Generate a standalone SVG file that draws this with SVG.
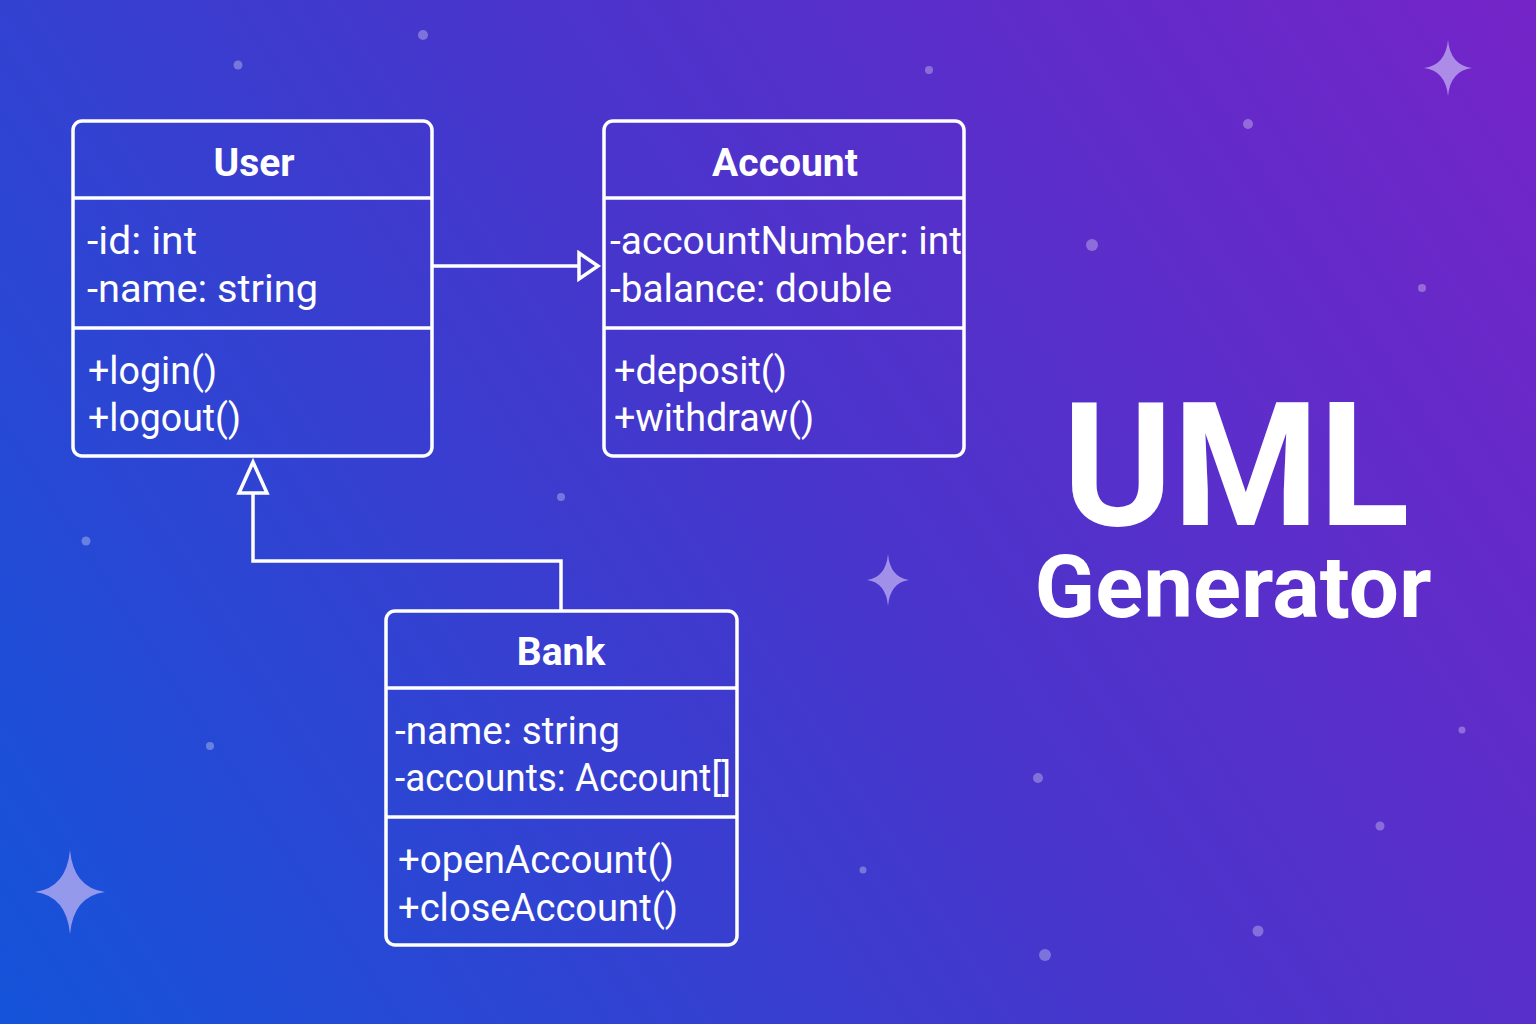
<svg xmlns="http://www.w3.org/2000/svg" width="1536" height="1024" viewBox="0 0 1536 1024">
<defs>
<linearGradient id="bg" x1="0" y1="1024" x2="1536" y2="0" gradientUnits="userSpaceOnUse">
<stop offset="0" stop-color="#1454da"/>
<stop offset="0.5" stop-color="#4636cc"/>
<stop offset="1" stop-color="#7524c8"/>
</linearGradient>
<path id="star" d="M0,-1 Q0.1,-0.1 1,0 Q0.1,0.1 0,1 Q-0.1,0.1 -1,0 Q-0.1,-0.1 0,-1 Z"/>
</defs>
<style>
.box{fill:none;stroke:#ffffff;stroke-width:3.5}
.sep{stroke:#ffffff;stroke-width:3.5}
.title{font-family:Roboto,"Noto Sans",sans-serif;font-weight:700;font-size:39px;fill:#ffffff;text-anchor:middle}
.mem{font-family:Roboto,"Noto Sans",sans-serif;font-size:38px;fill:#ffffff}
.conn{fill:none;stroke:#ffffff;stroke-width:3.5}
.head{fill:none;stroke:#ffffff;stroke-width:3.5;stroke-linejoin:miter}
.dot{fill:#ffffff;opacity:0.3}
.star{fill:#c8b8f5;opacity:0.7}
.big{font-family:Roboto,"Noto Sans",sans-serif;font-weight:700;fill:#ffffff;text-anchor:middle}
</style>
<rect width="1536" height="1024" fill="url(#bg)"/>
<g id="decor">
<circle class="dot" cx="423" cy="35" r="5"/>
<circle class="dot" cx="238" cy="65" r="4.5"/>
<circle class="dot" cx="929" cy="70" r="4"/>
<circle class="dot" cx="1248" cy="124" r="5"/>
<circle class="dot" cx="1092" cy="245" r="6"/>
<circle class="dot" cx="1422" cy="288" r="4"/>
<circle class="dot" cx="561" cy="497" r="4"/>
<circle class="dot" cx="86" cy="541" r="4.5"/>
<circle class="dot" cx="210" cy="746" r="4"/>
<circle class="dot" cx="1038" cy="778" r="5"/>
<circle class="dot" cx="1462" cy="730" r="3.5"/>
<circle class="dot" cx="1380" cy="826" r="4.5"/>
<circle class="dot" cx="863" cy="870" r="3.5"/>
<circle class="dot" cx="1258" cy="931" r="5.5"/>
<circle class="dot" cx="1045" cy="955" r="6"/>
<use href="#star" class="star" transform="translate(1448,68) scale(24,28)"/>
<use href="#star" class="star" transform="translate(70,892) scale(35,42)"/>
<use href="#star" class="star" transform="translate(888,580) scale(21,26)"/>
</g>
<g id="connectors">
<polyline class="conn" points="432,266 579,266"/>
<polygon class="head" points="579,253 598,266 579,279"/>
<polyline class="conn" points="561,611 561,561 253,561 253,493"/>
<polygon class="head" points="239,493 253,462 267,493"/>
</g>
<g id="User">
<rect class="box" x="73" y="121" width="359" height="335" rx="9"/>
<line class="sep" x1="73" y1="198" x2="432" y2="198"/>
<line class="sep" x1="73" y1="328" x2="432" y2="328"/>
<text class="title" x="254" y="176">User</text>
<text class="mem" x="87" y="254" textLength="110" lengthAdjust="spacingAndGlyphs">-id: int</text>
<text class="mem" x="87" y="302" textLength="231" lengthAdjust="spacingAndGlyphs">-name: string</text>
<text class="mem" x="88" y="384" textLength="129" lengthAdjust="spacingAndGlyphs">+login()</text>
<text class="mem" x="88" y="431" textLength="153" lengthAdjust="spacingAndGlyphs">+logout()</text>
</g>
<g id="Account">
<rect class="box" x="604" y="121" width="360" height="335" rx="9"/>
<line class="sep" x1="604" y1="198" x2="964" y2="198"/>
<line class="sep" x1="604" y1="328" x2="964" y2="328"/>
<text class="title" x="785" y="176">Account</text>
<text class="mem" x="610" y="254" textLength="352" lengthAdjust="spacingAndGlyphs">-accountNumber: int</text>
<text class="mem" x="610" y="302" textLength="282" lengthAdjust="spacingAndGlyphs">-balance: double</text>
<text class="mem" x="614" y="384" textLength="173" lengthAdjust="spacingAndGlyphs">+deposit()</text>
<text class="mem" x="614" y="431" textLength="200" lengthAdjust="spacingAndGlyphs">+withdraw()</text>
</g>
<g id="Bank">
<rect class="box" x="386" y="611" width="351" height="334" rx="9"/>
<line class="sep" x1="386" y1="688" x2="737" y2="688"/>
<line class="sep" x1="386" y1="817" x2="737" y2="817"/>
<text class="title" x="561" y="665">Bank</text>
<text class="mem" x="395" y="744" textLength="225" lengthAdjust="spacingAndGlyphs">-name: string</text>
<text class="mem" x="395" y="791" textLength="336" lengthAdjust="spacingAndGlyphs">-accounts: Account[]</text>
<text class="mem" x="398" y="873" textLength="276" lengthAdjust="spacingAndGlyphs">+openAccount()</text>
<text class="mem" x="398" y="921" textLength="280" lengthAdjust="spacingAndGlyphs">+closeAccount()</text>
</g>
<g id="heading">
<text class="big" x="1236" y="525" font-size="172" textLength="347" lengthAdjust="spacingAndGlyphs">UML</text>
<text class="big" x="1233" y="617" font-size="88" textLength="397" lengthAdjust="spacingAndGlyphs">Generator</text>
</g>
</svg>
